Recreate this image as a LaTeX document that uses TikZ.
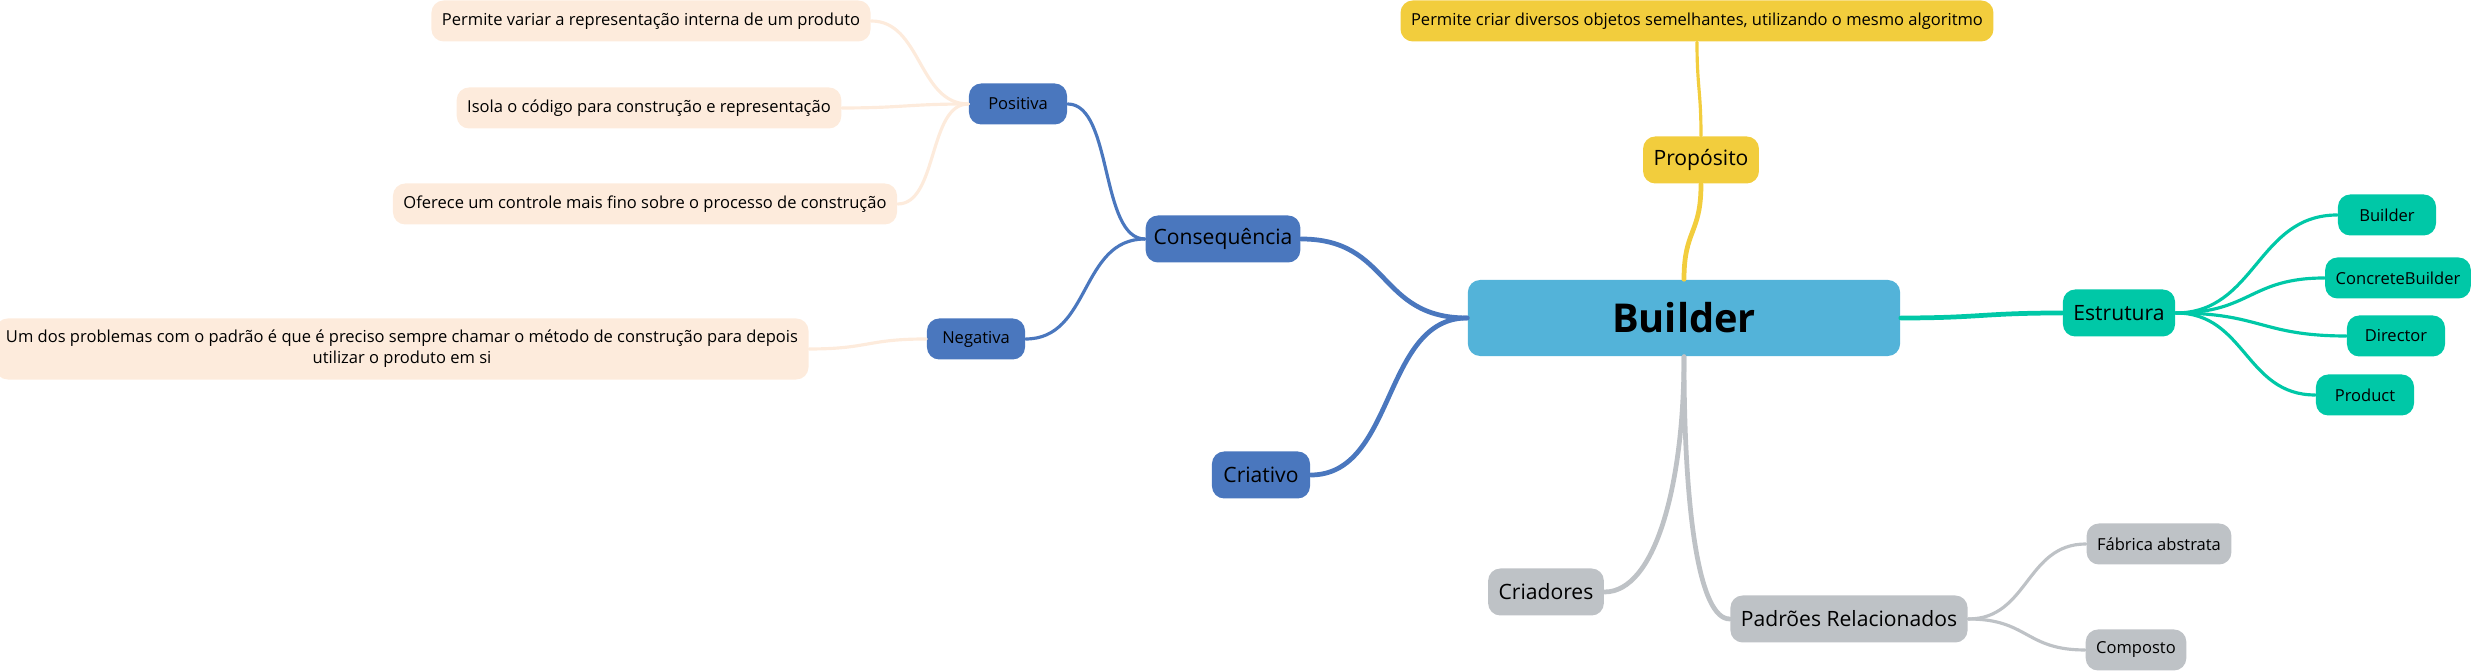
\documentclass[tikz,border=0pt]{standalone}
\usepackage{fontspec}
\setmainfont{Open Sans}
\usepackage{tikz}
\usepackage{xcolor}

\definecolor{rootblue}{HTML}{53B3D9}
\definecolor{mmyellow}{HTML}{F2CD3D}
\definecolor{mmteal}{HTML}{00C8A7}
\definecolor{mmblue}{HTML}{4A77BE}
\definecolor{mmpeach}{HTML}{FDEBDC}
\definecolor{mmgrey}{HTML}{BEC2C6}

\tikzset{
    mmbox/.style={rectangle, rounded corners=3.5pt, inner xsep=0.105cm, inner ysep=0pt, text=black},
    rootbox/.style={mmbox, fill=rootblue, minimum width=4.32cm, minimum height=0.76cm, font=\fontsize{11.3}{13}\selectfont\bfseries},
    topicbox/.style={mmbox, minimum width=0.98cm, minimum height=0.47cm, font=\fontsize{6}{7}\selectfont},
    leafbox/.style={mmbox, minimum width=0.98cm, minimum height=0.41cm, font=\fontsize{4.7}{6}\selectfont},
    firstline/.style={line width=1.35pt, line cap=round},
    secondline/.style={line width=0.9pt, line cap=round}
}

\begin{document}
\begin{tikzpicture}[x=0.01cm, y=-0.01cm]
    \useasboundingbox (0,0) rectangle (2471,671);

    % Nodo central
    \node[rootbox] (root) at (1684,318) {Builder};

    % Propósito
    \node[topicbox, fill=mmyellow] (prop) at (1701,160) {Propósito};
    \node[leafbox, fill=mmyellow] (propleaf) at (1697,21) {Permite criar diversos objetos semelhantes, utilizando o mesmo algoritmo};

    % Estrutura
    \node[topicbox, fill=mmteal] (estr) at (2119,313) {Estrutura};
    \node[leafbox, fill=mmteal] (estrbuilder) at (2387,215) {Builder};
    \node[leafbox, fill=mmteal] (estrconcrete) at (2398,278) {ConcreteBuilder};
    \node[leafbox, fill=mmteal] (estrdirector) at (2396,336) {Director};
    \node[leafbox, fill=mmteal] (estrproduct) at (2365,395) {Product};

    % Consequência
    \node[topicbox, fill=mmblue, inner xsep=0.08cm] (cons) at (1223,239) {Consequência};
    \node[leafbox, fill=mmblue] (pos) at (1018,104) {Positiva};
    \node[leafbox, fill=mmblue] (neg) at (976,339) {Negativa};
    \node[leafbox, fill=mmpeach] (posvariar) at (651,21) {Permite variar a representação interna de um produto};
    \node[leafbox, fill=mmpeach] (posisola) at (649,108) {Isola o código para construção e representação};
    \node[leafbox, fill=mmpeach] (posoferece) at (645,204) {Oferece um controle mais fino sobre o processo de construção};
    \node[leafbox, fill=mmpeach, minimum height=0.61cm, align=center, font=\fontsize{4.7}{6}\selectfont] (negproblema) at (402,349)
        {Um dos problemas com o padrão é que é preciso sempre chamar o método de construção para depois\\utilizar o produto em si};

    % Criativo
    \node[topicbox, fill=mmblue] (criat) at (1261,475) {Criativo};

    % Criadores e padrões
    \node[topicbox, fill=mmgrey] (criad) at (1546,592) {Criadores};
    \node[topicbox, fill=mmgrey] (padr) at (1849,619) {Padrões Relacionados};
    \node[leafbox, fill=mmgrey] (fab) at (2159,544) {Fábrica abstrata};
    \node[leafbox, fill=mmgrey] (comp) at (2136,650) {Composto};

    % Ligações
    \draw[firstline, mmyellow] (root.north) .. controls +(0,-50) and +(0,50) .. (prop.south);
    \draw[secondline, mmyellow] (prop.north) .. controls +(0,-45) and +(0,45) .. (propleaf.south);

    \draw[firstline, mmteal] (root.east) .. controls +(80,0) and +(-80,0) .. (estr.west);
    \draw[secondline, mmteal] (estr.east) .. controls +(80,0) and +(-80,0) .. (estrbuilder.west);
    \draw[secondline, mmteal] (estr.east) .. controls +(75,0) and +(-75,0) .. (estrconcrete.west);
    \draw[secondline, mmteal] (estr.east) .. controls +(85,0) and +(-85,0) .. (estrdirector.west);
    \draw[secondline, mmteal] (estr.east) .. controls +(70,0) and +(-70,0) .. (estrproduct.west);

    \draw[firstline, mmblue] (root.west) .. controls +(-90,0) and +(90,0) .. (cons.east);
    \draw[firstline, mmblue] (root.west) .. controls +(-85,0) and +(85,0) .. (criat.east);
    \draw[secondline, mmblue] (cons.west) .. controls +(-45,0) and +(45,0) .. (pos.east);
    \draw[secondline, mmblue] (cons.west) .. controls +(-65,0) and +(65,0) .. (neg.east);

    \draw[secondline, mmpeach] (pos.west) .. controls +(-50,0) and +(50,0) .. (posvariar.east);
    \draw[secondline, mmpeach] (pos.west) .. controls +(-60,0) and +(60,0) .. (posisola.east);
    \draw[secondline, mmpeach] (pos.west) .. controls +(-40,0) and +(40,0) .. (posoferece.east);
    \draw[secondline, mmpeach] (neg.west) .. controls +(-60,0) and +(60,0) .. (negproblema.east);

    \draw[firstline, mmgrey] (root.south) .. controls +(0,130) and +(50,0) .. (criad.east);
    \draw[firstline, mmgrey] (root.south) .. controls +(0,160) and +(-30,0) .. (padr.west);
    \draw[secondline, mmgrey] (padr.east) .. controls +(60,0) and +(-60,0) .. (fab.west);
    \draw[secondline, mmgrey] (padr.east) .. controls +(60,0) and +(-60,0) .. (comp.west);

\end{tikzpicture}
\end{document}
